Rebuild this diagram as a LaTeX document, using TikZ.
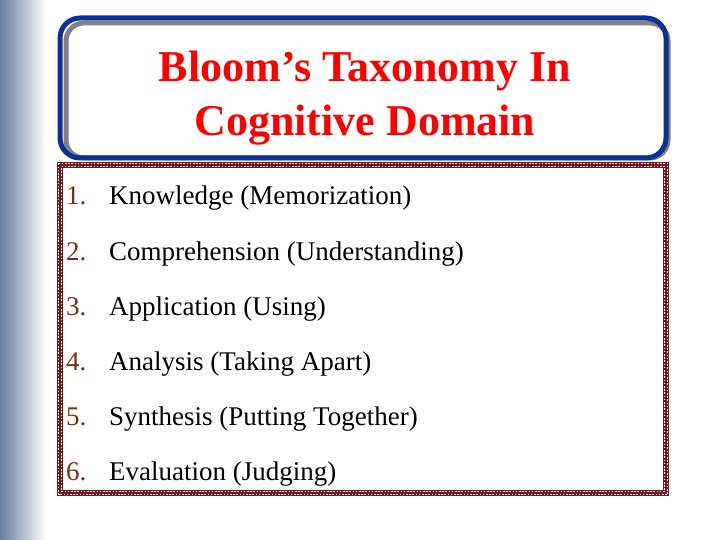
\documentclass[tikz,border=0pt]{standalone}
\usepackage{fontspec}
\setmainfont{Liberation Serif}
\definecolor{slate}{RGB}{100,125,160}
\definecolor{titleblue}{RGB}{10,50,150}
\definecolor{checkred}{RGB}{120,20,30}
\definecolor{numbrown}{RGB}{110,50,20}
\tikzset{
  item/.style={anchor=base west, inner sep=0pt, font=\fontsize{27}{30}\selectfont},
  num/.style={anchor=base west, inner sep=0pt, text=numbrown, font=\fontsize{27}{30}\selectfont}
}
\begin{document}
\begin{tikzpicture}[x=1pt,y=-1pt]
		\useasboundingbox (0,0) rectangle (720,540);
		\shade [left color=slate, right color=white] (0,0) rectangle (46,540);
		% checkered box
		\draw [checkred, line width=6pt] (60,165) rectangle (666,493);
		\draw [white, line width=1.4pt, dash pattern=on 1.6pt off 1.6pt] (58.5,163.5) rectangle (667.5,494.5);
		\draw [white, line width=1.4pt, dash pattern=on 1.6pt off 1.6pt, dash phase=1.6pt] (61.5,166.5) rectangle (664.5,491.5);
		% title box
		\draw [gray, line width=5pt, fill=white, rounded corners=18pt] (66,23) rectangle (668,158);
		\draw [titleblue, line width=5pt, rounded corners=20pt] (60,18) rectangle (666,158);
		\node (title) [align=center, text=red, font=\fontsize{44}{54}\selectfont\bfseries] at (365,98) {Bloom’s Taxonomy In\\Cognitive Domain};
		% list
		\foreach \n/\t [count=\i from 0] in {1/Knowledge (Memorization), 2/Comprehension (Understanding), 3/Application (Using), 4/Analysis (Taking Apart), 5/Synthesis (Putting Together), 6/Evaluation (Judging)} {
			\node (n\n) [num] at (66,{205+55*\i}) {\n.};
			\node (t\n) [item] at (109,{205+55*\i}) {\t};
		}
		\end{tikzpicture}
\end{document}
